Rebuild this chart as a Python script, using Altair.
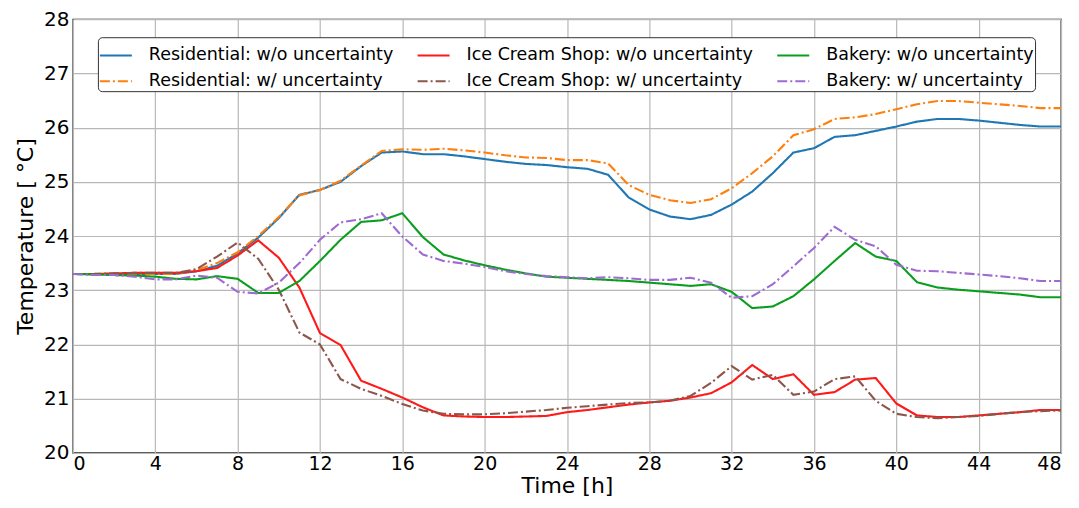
import altair as alt
import pandas as pd

hours = list(range(49))

res_wo = [23.30, 23.30, 23.30, 23.30, 23.30, 23.30, 23.35, 23.45, 23.68, 23.97,
          24.33, 24.76, 24.85, 25.00, 25.29, 25.54, 25.56, 25.51, 25.51, 25.47,
          25.42, 25.37, 25.33, 25.31, 25.27, 25.24, 25.13, 24.71, 24.49, 24.36,
          24.31, 24.39, 24.58, 24.82, 25.16, 25.54, 25.62, 25.83, 25.86, 25.94,
          26.02, 26.11, 26.16, 26.16, 26.13, 26.09, 26.05, 26.02, 26.02]
res_w = [23.30, 23.30, 23.30, 23.30, 23.30, 23.30, 23.37, 23.50, 23.70, 24.00,
         24.35, 24.75, 24.85, 25.02, 25.30, 25.57, 25.60, 25.59, 25.61, 25.58,
         25.54, 25.49, 25.45, 25.44, 25.40, 25.40, 25.34, 24.94, 24.76, 24.66,
         24.61, 24.68, 24.88, 25.16, 25.47, 25.86, 25.97, 26.16, 26.19, 26.25,
         26.34, 26.43, 26.49, 26.49, 26.46, 26.43, 26.40, 26.36, 26.36]
ics_wo = [23.30, 23.30, 23.31, 23.32, 23.32, 23.32, 23.35, 23.41, 23.64, 23.92,
          23.60, 23.05, 22.21, 21.99, 21.33, 21.18, 21.02, 20.84, 20.69, 20.67,
          20.66, 20.66, 20.67, 20.68, 20.75, 20.79, 20.84, 20.89, 20.93, 20.96,
          21.02, 21.10, 21.30, 21.62, 21.36, 21.45, 21.07, 21.12, 21.35, 21.38,
          20.91, 20.69, 20.66, 20.66, 20.69, 20.72, 20.75, 20.79, 20.79]
ics_w = [23.30, 23.30, 23.31, 23.32, 23.32, 23.32, 23.39, 23.62, 23.88, 23.58,
         23.01, 22.22, 22.00, 21.36, 21.18, 21.05, 20.90, 20.78, 20.72, 20.71,
         20.71, 20.73, 20.76, 20.79, 20.83, 20.86, 20.89, 20.92, 20.93, 20.96,
         21.05, 21.29, 21.60, 21.35, 21.44, 21.07, 21.13, 21.36, 21.41, 20.96,
         20.72, 20.66, 20.64, 20.66, 20.68, 20.72, 20.75, 20.77, 20.78]
bak_wo = [23.30, 23.29, 23.28, 23.27, 23.25, 23.21, 23.20, 23.26, 23.21, 22.95,
          22.95, 23.17, 23.54, 23.93, 24.26, 24.29, 24.42, 23.98, 23.66, 23.55,
          23.46, 23.38, 23.31, 23.25, 23.23, 23.21, 23.19, 23.17, 23.14, 23.11,
          23.08, 23.11, 22.97, 22.67, 22.70, 22.89, 23.20, 23.54, 23.87, 23.62,
          23.54, 23.15, 23.05, 23.01, 22.98, 22.95, 22.92, 22.87, 22.87]
bak_w = [23.30, 23.28, 23.28, 23.25, 23.20, 23.20, 23.27, 23.23, 22.97, 22.94,
         23.14, 23.50, 23.93, 24.25, 24.31, 24.42, 23.99, 23.66, 23.54, 23.49,
         23.43, 23.35, 23.30, 23.26, 23.24, 23.22, 23.24, 23.22, 23.19, 23.19,
         23.23, 23.14, 22.86, 22.89, 23.11, 23.44, 23.78, 24.17, 23.93, 23.81,
         23.47, 23.36, 23.35, 23.32, 23.29, 23.26, 23.22, 23.17, 23.17]

names = ["Residential: w/o uncertainty", "Ice Cream Shop: w/o uncertainty",
         "Bakery: w/o uncertainty", "Residential: w/ uncertainty",
         "Ice Cream Shop: w/ uncertainty", "Bakery: w/ uncertainty"]
series = [res_wo, ics_wo, bak_wo, res_w, ics_w, bak_w]
colors = ["#1f77b4", "#ff1a1a", "#0a9e1e", "#ff7f0e", "#8c564b", "#9e6bd1"]
dashes = [[1, 0], [1, 0], [1, 0], [10, 3, 2, 3], [10, 3, 2, 3], [10, 3, 2, 3]]
draw_order = [0, 3, 1, 4, 2, 5]

rows = []
for k, i in enumerate(draw_order):
    for h, v in zip(hours, series[i]):
        rows.append({"Time": h, "Temp": v, "Series": names[i], "order": k})
df = pd.DataFrame(rows)

leg = dict(title=None, orient="none", legendX=25, legendY=18, columns=3,
           direction="horizontal")

chart = alt.Chart(df).mark_line(strokeWidth=2.1).encode(
    x=alt.X("Time:Q", scale=alt.Scale(domain=[0, 48], nice=False),
            axis=alt.Axis(title="Time [h]", values=list(range(0, 49, 4)))),
    y=alt.Y("Temp:Q", scale=alt.Scale(domain=[20, 28], nice=False, zero=False),
            axis=alt.Axis(title="Temperature [ °C]", values=list(range(20, 29)))),
    color=alt.Color("Series:N", scale=alt.Scale(domain=names, range=colors),
                    legend=alt.Legend(**leg)),
    strokeDash=alt.StrokeDash("Series:N", scale=alt.Scale(domain=names, range=dashes),
                              legend=alt.Legend(**leg)),
    detail="order:O",
).properties(
    width=989, height=434,
    autosize=alt.AutoSizeParams(type="none"),
    padding={"left": 65, "top": 11, "right": 10, "bottom": 47},
).configure_view(
    stroke="black", strokeWidth=1.3
).configure_axis(
    labelFont="DejaVu Sans", titleFont="DejaVu Sans",
    labelFontSize=20, titleFontSize=22, labelColor="black", titleColor="black",
    titleFontWeight="normal", grid=True, gridColor="#b8b8b8", gridWidth=1.2,
    domain=False, ticks=False, labelPadding=4,
).configure_axisX(
    titlePadding=2, labelPadding=2, labelFontSize=19
).configure_axisY(
    titlePadding=6
).configure_legend(
    labelFont="DejaVu Sans", labelFontSize=17.5, labelColor="black", labelLimit=0,
    symbolType="stroke", symbolSize=1024, symbolStrokeWidth=2,
    strokeColor="#333333", fillColor="white", cornerRadius=4, padding=1,
    columnPadding=20, rowPadding=-7, labelOffset=16,
)

chart.save("out.html", embed_options={"renderer": "svg", "actions": False})
